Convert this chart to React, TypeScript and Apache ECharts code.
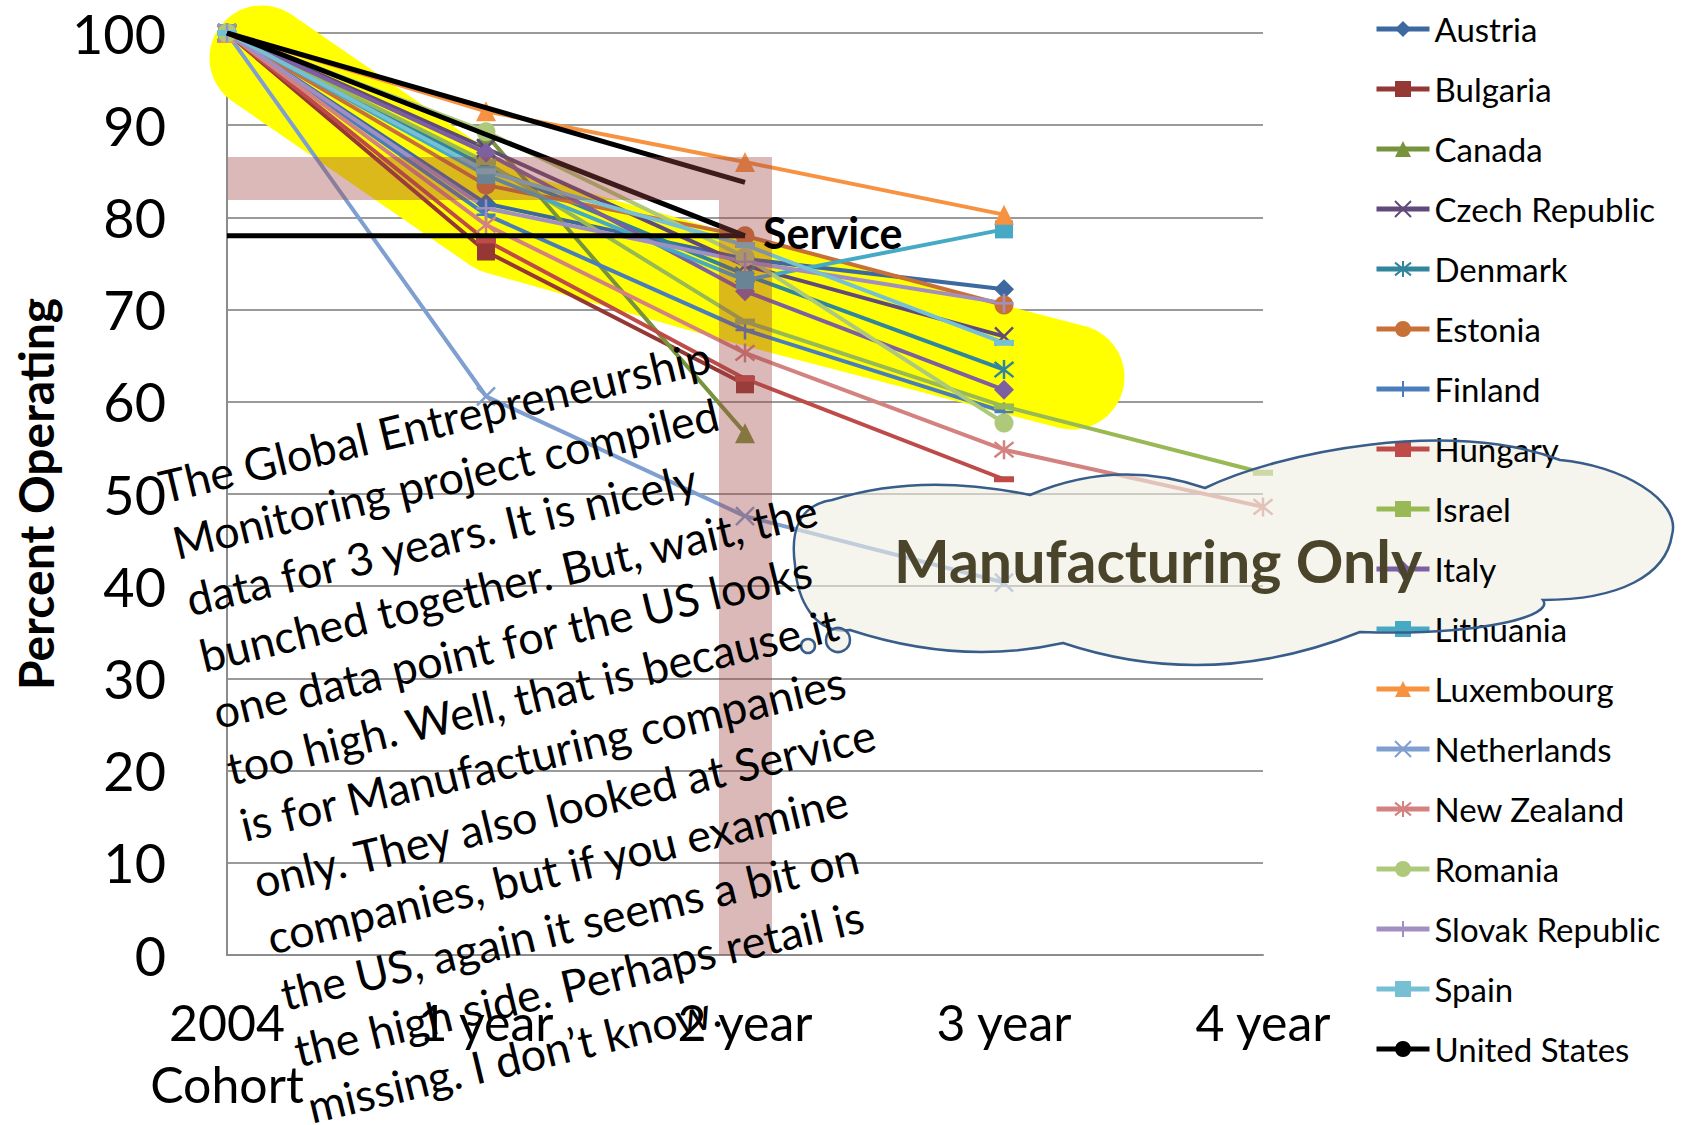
import React, { useEffect, useRef } from 'react';
import * as echarts from 'echarts';

// ---------- data ----------
const categories = ['2004\nCohort', '1 year', '2 year', '3 year', '4 year'];
const yMin = 0;
const yMax = 100;
const yStep = 10;

const austria = [100, 81.5, 75.5, 72.2, '-'];
const bulgaria = [100, 76.3, 61.9, '-', '-'];
const canada = [100, 89, 56.6, '-', '-'];
const czech = [100, 87.5, 74.8, 67.1, '-'];
const denmark = [100, 85.5, 73.8, 63.5, '-'];
const estonia = [100, 83.5, 78, 70.5, '-'];
const finland = [100, 80.3, 67.8, 58.9, '-'];
const hungary = [100, 77.5, 62.5, 51.6, '-'];
const israel = [100, 86, 68.7, 59.5, 52.3];
const italy = [100, 87, 72, 61.3, '-'];
const lithuania = [100, 84.6, 73.2, 78.7, '-'];
const luxembourg = [100, 91.5, 86, 80.3, '-'];
const netherlands = [100, 60.6, 47.6, 40.4, '-'];
const newZealand = [100, 79.2, 65.3, 54.8, 48.6];
const romania = [100, 89.3, 75.7, 57.7, '-'];
const slovak = [100, 81, 75.2, 70.7, '-'];
const spain = [100, 85, 77, 66.4, '-'];
const unitedStates = [100, '-', 83.8, '-', '-'];

// hand-drawn "Service" annotation lines
const serviceDiag = [100, '-', 78, '-', '-'];
const serviceLevel = [78, 78, 78, '-', '-'];

const seriesNames = [
  'Austria', 'Bulgaria', 'Canada', 'Czech Republic', 'Denmark', 'Estonia', 'Finland',
  'Hungary', 'Israel', 'Italy', 'Lithuania', 'Luxembourg', 'Netherlands', 'New Zealand',
  'Romania', 'Slovak Republic', 'Spain', 'United States',
];
const seriesData = [
  austria, bulgaria, canada, czech, denmark, estonia, finland, hungary, israel, italy,
  lithuania, luxembourg, netherlands, newZealand, romania, slovak, spain, unitedStates,
];

const annotationText =
  'The Global Entrepreneurship\nMonitoring project compiled\ndata for 3 years. It is nicely\n' +
  'bunched together. But, wait, the\none data point for the US looks\ntoo high. Well, that is because it\n' +
  'is for Manufacturing companies\nonly. They also looked at Service\ncompanies, but if you examine\n' +
  'the US, again it seems a bit on\nthe high side. Perhaps retail is\nmissing. I don\u2019t know.';

// ---------- styles ----------
const SYM_X = 'path://M0,0L10,10M10,0L0,10';
const SYM_STAR = 'path://M1,1L9,9M9,1L1,9M5,0L5,10';
const SYM_PLUS = 'path://M5,0L5,10M0,5L10,5';

type Sty = { color: string; symbol: string; size: any; stroke?: boolean; width?: number };
const styles: Sty[] = [
  { color: '#3D69A0', symbol: 'diamond', size: 20 },
  { color: '#953735', symbol: 'rect', size: 18 },
  { color: '#77933C', symbol: 'triangle', size: 20 },
  { color: '#604A7B', symbol: SYM_X, size: 18, stroke: true },
  { color: '#31859C', symbol: SYM_STAR, size: 19, stroke: true },
  { color: '#C87137', symbol: 'circle', size: 19 },
  { color: '#4A7EBB', symbol: SYM_PLUS, size: 19, stroke: true },
  { color: '#BE4B48', symbol: 'rect', size: [20, 6] },
  { color: '#98B954', symbol: 'rect', size: [20, 6] },
  { color: '#7D60A0', symbol: 'diamond', size: 20 },
  { color: '#46AAC5', symbol: 'rect', size: 18 },
  { color: '#F69240', symbol: 'triangle', size: 20 },
  { color: '#7F9FD0', symbol: SYM_X, size: 18, stroke: true },
  { color: '#D38280', symbol: SYM_STAR, size: 19, stroke: true },
  { color: '#AFC97A', symbol: 'circle', size: 19 },
  { color: '#A18FC3', symbol: SYM_PLUS, size: 19, stroke: true },
  { color: '#77C0D4', symbol: 'rect', size: [20, 6] },
  { color: '#000000', symbol: 'none', size: 0, width: 5 },
];

const CLOUD_D =
  'M795,565 C790,530 800,505 832,500 Q920,472 1030,495 Q1117,458 1205,488 ' +
  'C1280,452 1450,418 1560,460 C1620,465 1682,500 1672,535 C1666,575 1620,600 1543,600 ' +
  'C1555,616 1480,636 1360,632 Q1210,692 1063,643 Q960,666 850,630 C815,635 797,600 795,565 Z';

let cloudRegistered = false;
function registerCloud() {
  if (cloudRegistered) return;
  echarts.graphic.registerShape('cloudShape', echarts.graphic.extendPath(CLOUD_D, {}) as any);
  cloudRegistered = true;
}

const FONT = 'Lato';

export default function App() {
  const ref = useRef<HTMLDivElement>(null);

  useEffect(() => {
    if (!ref.current) return;
    registerCloud();
    const chart = echarts.init(ref.current, undefined, { renderer: 'svg' });

    const series: any[] = seriesNames.map((name, i) => {
      const s = styles[i];
      return {
        name,
        type: 'line',
        data: seriesData[i],
        connectNulls: true,
        symbol: s.symbol,
        symbolSize: s.size,
        lineStyle: { color: s.color, width: s.width || 4 },
        itemStyle: s.stroke
          ? { color: s.color, borderColor: s.color, borderWidth: 2.5 }
          : { color: s.color },
        z: i === 17 ? 3 : 2,
        emphasis: { disabled: true },
      };
    });
    series.push(
      {
        name: 'svcDiag', type: 'line', data: serviceDiag, connectNulls: true, symbol: 'none',
        lineStyle: { color: '#000', width: 5 }, z: 3, silent: true,
      },
      {
        name: 'svcLevel', type: 'line', data: serviceLevel, symbol: 'none',
        lineStyle: { color: '#000', width: 5 }, z: 3, silent: true,
      }
    );

    const cloudStyle = { fill: 'rgba(238,236,225,0.6)', stroke: 'none' };
    const outlineStyle = { fill: 'none', stroke: '#385D8A', lineWidth: 2.5 };

    chart.setOption({
      animation: false,
      backgroundColor: '#ffffff',
      textStyle: { fontFamily: FONT },
      grid: { left: 227, right: 418, top: 33, bottom: 170, containLabel: false },
      xAxis: {
        type: 'category',
        data: categories,
        boundaryGap: false,
        axisLine: { lineStyle: { color: '#8C8C8C', width: 2 } },
        axisTick: { show: false },
        axisLabel: { fontSize: 50, lineHeight: 62, margin: 36, color: '#000', fontFamily: FONT, interval: 0 },
        splitLine: { show: false },
      },
      yAxis: {
        type: 'value',
        min: yMin,
        max: yMax,
        interval: yStep,
        name: 'Percent Operating',
        nameLocation: 'middle',
        nameGap: 168,
        nameTextStyle: { fontSize: 48, fontWeight: 'bold', color: '#000', fontFamily: FONT, lineHeight: 48 },
        axisLine: { show: true, lineStyle: { color: '#8C8C8C', width: 2 } },
        axisTick: { show: false },
        axisLabel: { fontSize: 54, margin: 61, color: '#000', fontFamily: FONT },
        splitLine: { lineStyle: { color: '#9A9A9A', width: 2 } },
      },
      legend: {
        data: seriesNames,
        orient: 'vertical',
        left: 1374,
        top: 11,
        padding: 0,
        itemWidth: 53,
        itemHeight: 20,
        itemGap: 24,
        lineStyle: { width: 5 },
        textStyle: { fontSize: 33, lineHeight: 36, color: '#000', fontFamily: FONT },
        selectedMode: false,
      },
      series,
      graphic: [
        {
          type: 'polyline', z: 1, silent: true,
          shape: { points: [[262, 58], [500, 222], [750, 293], [1072, 377]] },
          style: { stroke: '#FFFF00', lineWidth: 105, lineCap: 'round', lineJoin: 'round', fill: 'none' },
        },
        {
          type: 'rect', z: 5, silent: true,
          shape: { x: 228, y: 157, width: 544, height: 43 },
          style: { fill: 'rgba(160,70,70,0.38)' },
        },
        {
          type: 'rect', z: 5, silent: true,
          shape: { x: 719, y: 200, width: 53, height: 755 },
          style: { fill: 'rgba(160,70,70,0.38)' },
        },
        { type: 'cloudShape', x: 0, y: 0, z: 3, silent: true, style: cloudStyle },
        { type: 'cloudShape', x: 0, y: 0, z: 6, silent: true, style: outlineStyle },
        {
          type: 'circle', z: 6, silent: true, shape: { cx: 838, cy: 640, r: 12 },
          style: { fill: 'rgba(238,236,225,0.6)', stroke: '#385D8A', lineWidth: 2.5 },
        },
        {
          type: 'circle', z: 6, silent: true, shape: { cx: 808, cy: 646, r: 7 },
          style: { fill: 'rgba(238,236,225,0.6)', stroke: '#385D8A', lineWidth: 2.5 },
        },
        {
          type: 'text', z: 8, silent: true, x: 763, y: 232,
          style: {
            text: 'Service', fill: '#000', fontSize: 43, fontWeight: 'bold', fontFamily: FONT,
            textAlign: 'left', textVerticalAlign: 'middle', align: 'left', verticalAlign: 'middle',
          },
        },
        {
          type: 'text', z: 8, silent: true, x: 1158, y: 560,
          style: {
            text: 'Manufacturing Only', fill: '#4A452A', fontSize: 59, fontWeight: 'bold', fontFamily: FONT,
            textAlign: 'center', textVerticalAlign: 'middle', align: 'center', verticalAlign: 'middle',
          },
        },
        {
          type: 'text', z: 7, silent: true, x: 153, y: 459, rotation: (13.5 * Math.PI) / 180,
          style: {
            text: annotationText, fill: '#000', fontSize: 45, lineHeight: 58, fontFamily: FONT,
            textAlign: 'left', textVerticalAlign: 'top', align: 'left', verticalAlign: 'top',
          },
        },
      ],
    });

    return () => chart.dispose();
  }, []);

  return (
    <div
      ref={ref}
      style={{ position: 'absolute', left: 0, top: 0, width: 1681, height: 1125, background: '#fff' }}
    />
  );
}
